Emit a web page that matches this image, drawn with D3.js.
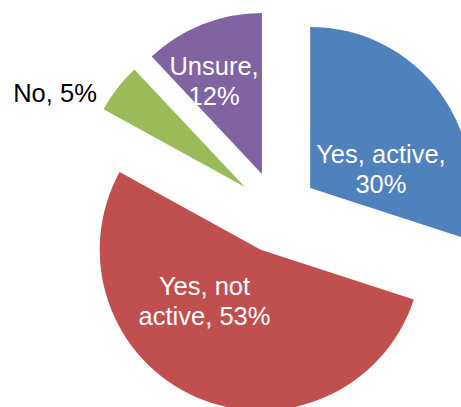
<!DOCTYPE html>
<html>
<head>
<meta charset="utf-8">
<script src="https://cdn.jsdelivr.net/npm/d3@7"></script>
<style>
  html, body { margin: 0; padding: 0; background: #fff; }
  svg { display: block; }
  text { font-family: "Liberation Sans", Arial, sans-serif; }
</style>
</head>
<body>
<svg id="chart" width="461" height="407"></svg>
<script>
// ---- data ----
const categories = ["Yes, active", "Yes, not active", "No", "Unsure"];
const values = [30, 53, 5, 12];
const colors = ["#4F81BD", "#C0504D", "#9BBB59", "#8064A2"];
// label text lines (as wrapped in the original)
const labelLines = [
  ["Yes, active,", "30%"],
  ["Yes, not", "active, 53%"],
  ["No, 5%"],
  ["Unsure,", "12%"]
];

// ---- layout ----
const W = 461, H = 407;
const cx = 277, cy = 212;
const radius = 161;
const explode = 41;
const fontSize = 25.5;
const lineH = 30;
// label placement relative to each exploded slice apex: [angle deg, distance], colour
const labelPlace = [
  { ang: 74.9, dist: 73.3, fill: "#fff" },
  { ang: 227.7, dist: 76.0, fill: "#fff" },
  { ang: 296.4, dist: 211.7, fill: "#000" },
  { ang: 332.8, dist: 104.7, fill: "#fff" }
];

const svg = d3.select("#chart");
const g = svg.append("g").attr("transform", `translate(${cx},${cy})`);

const pie = d3.pie().sort(null).value(d => d.value);
const arcs = pie(categories.map((c, i) => ({ cat: c, value: values[i], i })));
const arc = d3.arc().innerRadius(0).outerRadius(radius);

const slices = g.selectAll("g.slice").data(arcs).enter().append("g")
  .attr("class", "slice")
  .attr("transform", d => {
    const mid = (d.startAngle + d.endAngle) / 2;
    return `translate(${Math.sin(mid) * explode},${-Math.cos(mid) * explode})`;
  });

slices.append("path")
  .attr("d", arc)
  .attr("fill", (d, i) => colors[i]);

slices.each(function(d, i) {
  const p = labelPlace[i];
  const a = p.ang * Math.PI / 180;
  const lx = Math.sin(a) * p.dist, ly = -Math.cos(a) * p.dist;
  const lines = labelLines[i];
  const t = d3.select(this).append("text")
    .attr("text-anchor", "middle")
    .attr("font-size", fontSize)
    .attr("fill", p.fill);
  lines.forEach((ln, k) => {
    t.append("tspan")
      .attr("x", lx)
      .attr("y", ly + (k - (lines.length - 1) / 2) * lineH + fontSize * 0.36)
      .text(ln);
  });
});
</script>
</body>
</html>
